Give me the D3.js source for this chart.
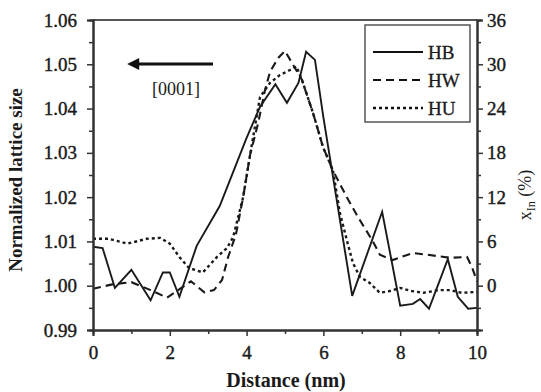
<!DOCTYPE html>
<html>
<head>
<meta charset="utf-8">
<script src="https://cdn.jsdelivr.net/npm/d3@7/dist/d3.min.js"></script>
<style>
  body { margin: 0; background: #fff; }
  text { font-family: "Liberation Serif", "DejaVu Serif", serif; fill: #1a1a1a; }
</style>
</head>
<body>
<div id="content"></div>
<script>
// values (distance in nm, normalized lattice size)
var hbData = [[0, 1.0088], [0.25, 1.0085], [0.57, 0.9995], [1.0, 1.0036], [1.5, 0.9967], [1.82, 1.003],
  [2.0, 1.003], [2.25, 0.9975], [2.7, 1.009], [3.3, 1.018], [4.0, 1.0334], [4.35, 1.0404], [4.75, 1.0455],
  [5.05, 1.0413], [5.35, 1.0458], [5.55, 1.0528], [5.78, 1.051], [6.0, 1.038], [6.75, 0.9977], [7.53, 1.0167],
  [8.0, 0.9955], [8.33, 0.9959], [8.52, 0.997], [8.75, 0.9948], [9.24, 1.006], [9.5, 0.9975], [9.77, 0.9948], [10, 0.995]];

var hwData = [[0, 0.9993], [0.5, 1.0003], [1.0, 1.0008], [1.5, 0.999], [1.93, 0.9973], [2.3, 0.9995],
  [2.55, 1.001], [2.9, 0.9985], [3.15, 0.999], [3.36, 1.0013], [3.52, 1.0065], [3.72, 1.0115], [3.91, 1.02],
  [4.09, 1.0295], [4.3, 1.0367], [4.48, 1.0442], [4.61, 1.0483], [4.82, 1.0514], [5.0, 1.053], [5.44, 1.0465],
  [5.73, 1.039], [5.99, 1.0313], [6.25, 1.026], [6.61, 1.02], [6.9, 1.0155], [7.27, 1.0103], [7.47, 1.007],
  [7.8, 1.0058], [8.33, 1.0074], [8.7, 1.007], [9.3, 1.0063], [9.74, 1.0065], [9.87, 1.0042], [10, 1.001]];

var huData = [[0, 1.0106], [0.4, 1.0106], [0.9, 1.0095], [1.4, 1.0106], [1.75, 1.0108], [2.0, 1.0095],
  [2.25, 1.0065], [2.5, 1.004], [2.86, 1.003], [3.23, 1.0065], [3.49, 1.0085], [3.65, 1.011], [3.91, 1.02],
  [4.09, 1.0295], [4.35, 1.0426], [4.61, 1.0458], [4.87, 1.0476], [5.13, 1.0487], [5.3, 1.0495], [5.44, 1.0465],
  [5.73, 1.039], [5.99, 1.0313], [6.25, 1.026], [6.43, 1.0164], [6.61, 1.0103], [6.77, 1.0051], [6.95, 1.002],
  [7.21, 1.0006], [7.47, 0.9984], [7.73, 0.9988], [8.0, 0.9995], [8.3, 0.9988], [8.6, 0.9984], [9.0, 0.999],
  [9.3, 0.999], [9.6, 0.9984], [10, 0.9986]];

var xTicks = [0, 2, 4, 6, 8, 10];
var xMinor = [1, 3, 5, 7, 9];
var yTicks = [0.99, 1.00, 1.01, 1.02, 1.03, 1.04, 1.05, 1.06];
var yMinor = [0.995, 1.005, 1.015, 1.025, 1.035, 1.045, 1.055];
var rTicks = [0, 6, 12, 18, 24, 30, 36];
var rMinor = [-3, 3, 9, 15, 21, 27, 33];

var series = [
  { name: "HB", data: hbData, dash: null, w: 1.9 },
  { name: "HW", data: hwData, dash: "8,5", w: 2.1 },
  { name: "HU", data: huData, dash: "3,3", w: 2.4 }
];

var width = 541, height = 392;
var margin = { top: 20, right: 64, bottom: 62, left: 93 };
var innerW = width - margin.left - margin.right;
var innerH = height - margin.top - margin.bottom;

var svg = d3.select("#content").append("svg").attr("width", width).attr("height", height);
var g = svg.append("g").attr("transform", `translate(${margin.left}, ${margin.top})`);

var x = d3.scaleLinear().domain([0, 10]).range([0, innerW]);
var y = d3.scaleLinear().domain([0.99, 1.06]).range([innerH, 0]);
var yr = d3.scaleLinear().domain([-6, 36]).range([innerH, 0]);

var axisColor = "#333";

// curves
var line = d3.line().x(d => x(d[0])).y(d => y(d[1]));
series.forEach(function (s) {
  g.append("path")
    .datum(s.data)
    .attr("d", line)
    .attr("fill", "none")
    .attr("stroke", "#1a1a1a")
    .attr("stroke-width", s.w)
    .attr("stroke-dasharray", s.dash);
});

// frame top
g.append("line").attr("x1", 0).attr("x2", innerW).attr("y1", 0).attr("y2", 0)
  .attr("stroke", "#555").attr("stroke-width", 2);

function styleAxis(sel) {
  sel.select(".domain").attr("stroke", axisColor).attr("stroke-width", 2);
  sel.selectAll(".tick line").attr("stroke", axisColor).attr("stroke-width", 1.5);
  sel.selectAll("text")
    .style("font-size", "19px")
    .style("font-family", "Liberation Serif")
    .attr("fill", "#1a1a1a")
    .attr("stroke", "#1a1a1a")
    .attr("stroke-width", 0.4);
}

// minor ticks first
g.append("g").attr("transform", `translate(0, ${innerH})`)
  .call(d3.axisBottom(x).tickValues(xMinor).tickSize(4).tickFormat(""))
  .call(styleAxis);
g.append("g")
  .call(d3.axisLeft(y).tickValues(yMinor).tickSize(4).tickFormat(""))
  .call(styleAxis);
g.append("g").attr("transform", `translate(${innerW}, 0)`)
  .call(d3.axisRight(yr).tickValues(rMinor).tickSize(4).tickFormat(""))
  .call(styleAxis);

g.append("g").attr("transform", `translate(0, ${innerH})`)
  .call(d3.axisBottom(x).tickValues(xTicks).tickSize(6).tickPadding(10).tickFormat(d3.format("d")))
  .call(styleAxis);
g.append("g")
  .call(d3.axisLeft(y).tickValues(yTicks).tickSize(6).tickPadding(10).tickFormat(d3.format(".2f")))
  .call(styleAxis);
g.append("g").attr("transform", `translate(${innerW}, 0)`)
  .call(d3.axisRight(yr).tickValues(rTicks).tickSize(6).tickPadding(4).tickFormat(d3.format("d")))
  .call(styleAxis);

// axis titles
svg.append("text")
  .attr("x", 286)
  .attr("y", 387)
  .style("text-anchor", "middle")
  .style("font-size", "20px")
  .style("font-weight", "bold")
  .text("Distance (nm)");

svg.append("text")
  .attr("transform", "rotate(-90)")
  .attr("x", -180)
  .attr("y", 22)
  .style("text-anchor", "middle")
  .style("font-size", "19px")
  .style("font-weight", "bold")
  .text("Normalized lattice size");

var rLabel = svg.append("text")
  .attr("transform", "rotate(-90)")
  .attr("x", -195)
  .attr("y", 531)
  .style("text-anchor", "middle")
  .style("font-size", "18px");
rLabel.append("tspan").text("x");
rLabel.append("tspan").attr("dy", 4).style("font-size", "12px").text("In");
rLabel.append("tspan").attr("dy", -4).text(" (%)");

// growth direction arrow
svg.append("defs").append("marker")
  .attr("id", "head")
  .attr("viewBox", "0 0 10 10")
  .attr("refX", 1).attr("refY", 5)
  .attr("markerWidth", 4.5).attr("markerHeight", 4)
  .attr("orient", "auto-start-reverse")
  .append("path").attr("d", "M0,0 L10,5 L0,10 Z").attr("fill", "#111");

svg.append("line")
  .attr("x1", 213).attr("y1", 64).attr("x2", 138).attr("y2", 64)
  .attr("stroke", "#111").attr("stroke-width", 3)
  .attr("marker-end", "url(#head)");

svg.append("text")
  .attr("x", 176).attr("y", 95)
  .style("text-anchor", "middle")
  .style("font-size", "18px")
  .text("[0001]");

// legend
var legend = svg.append("g").attr("transform", "translate(365, 25)");
legend.append("rect")
  .attr("width", 105).attr("height", 97)
  .attr("fill", "#fff").attr("stroke", "#555").attr("stroke-width", 1.5);
series.forEach(function (s, i) {
  var ly = 27 + i * 28;
  legend.append("line")
    .attr("x1", 8).attr("x2", 58).attr("y1", ly).attr("y2", ly)
    .attr("stroke", "#111").attr("stroke-width", s.w)
    .attr("stroke-dasharray", s.dash);
  legend.append("text")
    .attr("x", 63).attr("y", ly + 7)
    .style("font-size", "19px")
    .attr("stroke", "#1a1a1a").attr("stroke-width", 0.3)
    .text(s.name);
});
</script>
</body>
</html>
